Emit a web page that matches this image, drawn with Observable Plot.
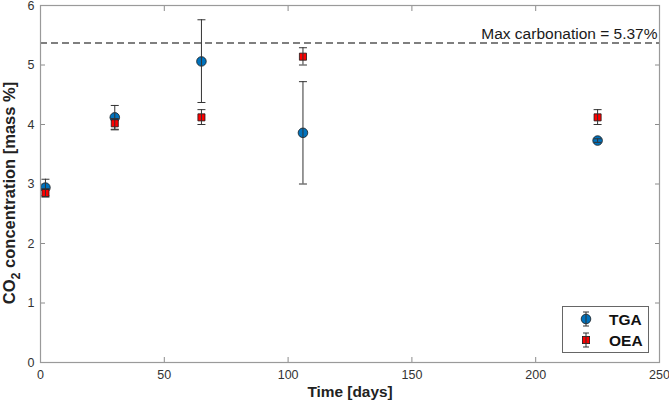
<!DOCTYPE html>
<html>
<head>
<meta charset="utf-8">
<script src="https://cdn.jsdelivr.net/npm/d3@7"></script>
<script src="https://cdn.jsdelivr.net/npm/@observablehq/plot@0.6"></script>
<style>
  html, body { margin: 0; padding: 0; background: #fff; }
  #chart { width: 669px; height: 405px; }
  svg [aria-label="x-axis tick"], svg [aria-label="y-axis tick"] { stroke: #8c8c8c; }
  svg [aria-label="x-axis tick label"], svg [aria-label="y-axis tick label"] { fill: #333; }
</style>
</head>
<body>
<div id="chart"></div>
<script>
// ---- data ----
const days = [2, 30, 65, 106, 225];
const tgaMean = [2.94, 4.12, 5.06, 3.86, 3.73];
const tgaLow  = [2.80, 3.92, 4.37, 3.00, 3.70];
const tgaHigh = [3.08, 4.32, 5.76, 4.72, 3.76];
const oeaMean = [2.85, 4.02, 4.12, 5.14, 4.12];
const oeaLow  = [2.78, 3.91, 4.00, 5.00, 4.00];
const oeaHigh = [2.92, 4.10, 4.25, 5.29, 4.25];
const maxCarbonation = 5.37;
const xTicks = [0, 50, 100, 150, 200, 250];
const yTicks = [0, 1, 2, 3, 4, 5, 6];
const seriesNames = ["TGA", "OEA"];

const tga = days.map((d, i) => ({day: d, mean: tgaMean[i], lo: tgaLow[i], hi: tgaHigh[i]}));
const oea = days.map((d, i) => ({day: d, mean: oeaMean[i], lo: oeaLow[i], hi: oeaHigh[i]}));

const capSymbol = {
  draw(context, size) {
    const w = Math.sqrt(size / Math.PI);
    context.moveTo(-w, 0);
    context.lineTo(w, 0);
  }
};

const errColor = "#333333";
function errorMarks(data) {
  return [
    Plot.ruleX(data, {x: "day", y1: "lo", y2: "hi", stroke: errColor, strokeWidth: 1}),
    Plot.dot(data, {x: "day", y: "lo", symbol: capSymbol, r: 4, stroke: errColor, strokeWidth: 1, fill: "none"}),
    Plot.dot(data, {x: "day", y: "hi", symbol: capSymbol, r: 4, stroke: errColor, strokeWidth: 1, fill: "none"})
  ];
}

const font = "'Liberation Sans', Arial, sans-serif";

const plot = Plot.plot({
  width: 669,
  height: 405,
  marginLeft: 40,
  marginRight: 10,
  marginTop: 5,
  marginBottom: 43,
  style: {fontFamily: font, fontSize: "12px", background: "#fff"},
  x: {domain: [0, 250]},
  y: {domain: [0, 6]},
  marks: [
    Plot.axisX({ticks: xTicks, tickSize: -5, tickPadding: 13, tickFormat: "d", label: null, fontSize: 12.5}),
    Plot.axisX({anchor: "top", ticks: xTicks, tickSize: -5, tickFormat: () => "", label: null}),
    Plot.axisY({ticks: yTicks, tickSize: -5, tickPadding: 11, tickFormat: "d", label: null, fontSize: 12.5}),
    Plot.axisY({anchor: "right", ticks: yTicks, tickSize: -5, tickFormat: () => "", label: null}),
    Plot.ruleY([maxCarbonation], {stroke: "#555", strokeWidth: 1.5, strokeDasharray: "7,4"}),
    Plot.text([maxCarbonation], {
      x: () => 250, y: d => d, text: d => `Max carbonation = ${d}%`,
      textAnchor: "end", lineAnchor: "bottom", dx: -2, dy: -4, fontSize: 15.5, fill: "#1a1a1a"
    }),
    Plot.dot(tga, {x: "day", y: "mean", r: 4.8, fill: "#0072BD", stroke: "#1a1a1a", strokeWidth: 0.8}),
    ...errorMarks(tga),
    Plot.dot(oea, {x: "day", y: "mean", symbol: "square", r: 4, fill: "#FF0000", stroke: "#1a1a1a", strokeWidth: 0.8}),
    ...errorMarks(oea),
    Plot.frame({stroke: "#9a9a9a", strokeWidth: 1.2})
  ]
});

document.getElementById("chart").appendChild(plot);

const svg = d3.select(plot);

// axis titles
svg.append("text")
  .attr("x", 350).attr("y", 397)
  .attr("text-anchor", "middle")
  .attr("font-family", font).attr("font-weight", "bold").attr("font-size", 15.4)
  .attr("fill", "#222")
  .text("Time [days]");

const yl = svg.append("text")
  .attr("transform", "translate(15,193) rotate(-90)")
  .attr("text-anchor", "middle")
  .attr("font-family", font).attr("font-weight", "bold").attr("font-size", 16.5)
  .attr("fill", "#222");
yl.append("tspan").text("CO");
yl.append("tspan").attr("dy", 5).attr("font-size", 12.5).text("2");
yl.append("tspan").attr("dy", -5).text(" concentration [mass %]");

// legend
const lg = svg.append("g").attr("font-family", font).attr("text-anchor", "start");
lg.append("rect").attr("x", 562.5).attr("y", 306.5).attr("width", 86).attr("height", 46)
  .attr("fill", "#fff").attr("stroke", "#666").attr("stroke-width", 1);
const legendY = [319, 340];
seriesNames.forEach((name, i) => {
  const y = legendY[i], x = 586;
  const g = lg.append("g");
  if (i === 0) {
    g.append("circle").attr("cx", x).attr("cy", y).attr("r", 4.8).attr("fill", "#0072BD").attr("stroke", "#1a1a1a").attr("stroke-width", 0.8);
  } else {
    g.append("rect").attr("x", x - 3.6).attr("y", y - 3.6).attr("width", 7.2).attr("height", 7.2).attr("fill", "#FF0000").attr("stroke", "#1a1a1a").attr("stroke-width", 0.8);
  }
  g.append("line").attr("x1", x).attr("x2", x).attr("y1", y - 7).attr("y2", y + 7).attr("stroke", errColor);
  g.append("line").attr("x1", x - 3).attr("x2", x + 3).attr("y1", y - 7).attr("y2", y - 7).attr("stroke", errColor);
  g.append("line").attr("x1", x - 3).attr("x2", x + 3).attr("y1", y + 7).attr("y2", y + 7).attr("stroke", errColor);
  g.append("text").attr("x", 609).attr("y", y).attr("dy", "0.36em")
    .attr("font-weight", "bold").attr("font-size", 15.5).attr("fill", "#111").text(name);
});
</script>
</body>
</html>
